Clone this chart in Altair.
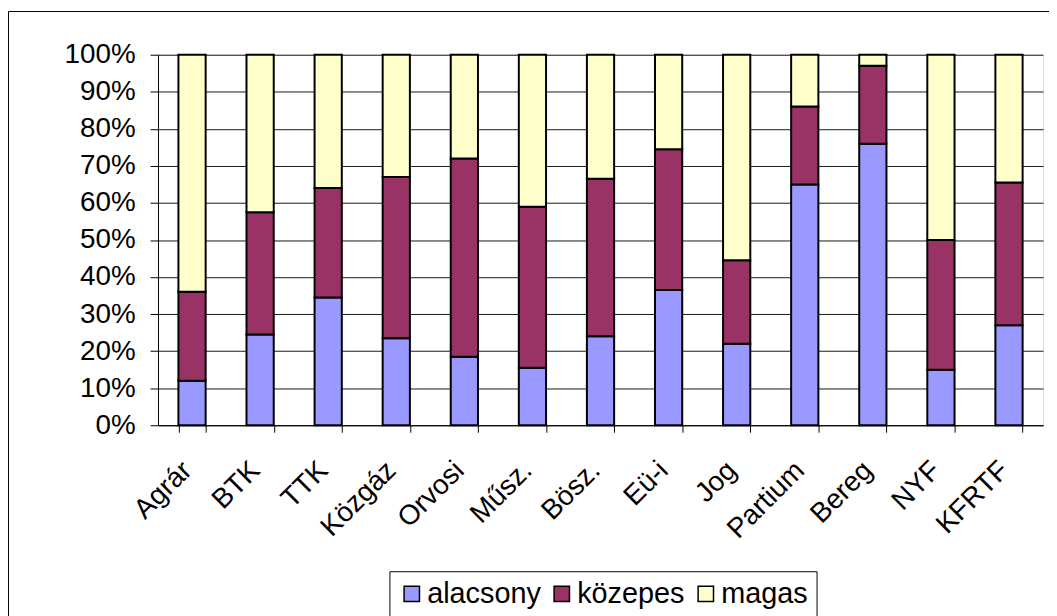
import altair as alt
import pandas as pd

categories = ["Agrár", "BTK", "TTK", "Közgáz", "Orvosi", "Műsz.", "Bösz.",
              "Eü-i", "Jog", "Partium", "Bereg", "NYF", "KFRTF"]
alacsony = [12, 24.5, 34.5, 23.5, 18.5, 15.5, 24, 36.5, 22, 65, 76, 15, 27]
kozepes = [24, 33, 29.5, 43.5, 53.5, 43.5, 42.5, 38, 22.5, 21, 21, 35, 38.5]
magas = [64, 42.5, 36, 33, 28, 41, 33.5, 25.5, 55.5, 14, 3, 50, 34.5]
series = ["alacsony", "közepes", "magas"]
colors = ["#9999FF", "#993366", "#FFFFCC"]
y_ticks = [0, 10, 20, 30, 40, 50, 60, 70, 80, 90, 100]

rows = []
for i, c in enumerate(categories):
    for k, (name, vals) in enumerate(zip(series, [alacsony, kozepes, magas])):
        rows.append({"kar": c, "szint": name, "ertek": vals[i], "rend": k})
df = pd.DataFrame(rows)

FONT = "Liberation Sans"

bars = alt.Chart(df).mark_bar(stroke="black", strokeWidth=2).encode(
    x=alt.X("kar:N", sort=categories,
            scale=alt.Scale(paddingInner=0.6, paddingOuter=0.3),
            axis=alt.Axis(title=None, labelAngle=-45, labelAlign="right",
                          labelBaseline="middle", labelPadding=34, labelOffset=-5,
                          tickBand="extent", tickSize=7, tickColor="black",
                          domainColor="black", labelFontSize=28, labelFont=FONT,
                          labelColor="black", grid=False)),
    y=alt.Y("ertek:Q", stack="zero",
            scale=alt.Scale(domain=[0, 100], nice=False),
            axis=alt.Axis(title=None, values=y_ticks,
                          labelExpr="datum.value + '%'", tickSize=8,
                          labelPadding=15, tickColor="black", domainColor="black",
                          gridColor="black", gridOpacity=0.9, grid=True,
                          labelFontSize=28, labelFont=FONT, labelColor="black")),
    color=alt.Color("szint:N", sort=series,
                    scale=alt.Scale(domain=series, range=colors),
                    legend=alt.Legend(title=None, orient="none", legendX=233,
                                      legendY=520, direction="horizontal",
                                      strokeColor="black", padding=8,
                                      symbolType="square", symbolSize=240,
                                      symbolStrokeColor="black",
                                      symbolStrokeWidth=1.5,
                                      labelFontSize=29, labelFont=FONT,
                                      labelColor="black", labelOffset=1,
                                      columnPadding=6, symbolOpacity=1)),
    order=alt.Order("rend:Q", sort="ascending"),
)

frame = alt.Chart(pd.DataFrame({"a": [0]})).mark_rect(
    filled=False, stroke="black", strokeWidth=1
).encode(
    x=alt.value(-150.5), x2=alt.value(1100),
    y=alt.value(-43.5), y2=alt.value(800),
)

chart = alt.layer(frame, bars).properties(
    width=891, height=373,
    autosize=alt.AutoSizeParams(type="none"),
    padding={"left": 151, "top": 45, "right": 6, "bottom": 190},
).configure_view(
    fill="#C0C0C0", stroke="#808080", strokeWidth=1
).configure(background="white")

chart.save("out.html", embed_options={"renderer": "svg", "actions": False})
